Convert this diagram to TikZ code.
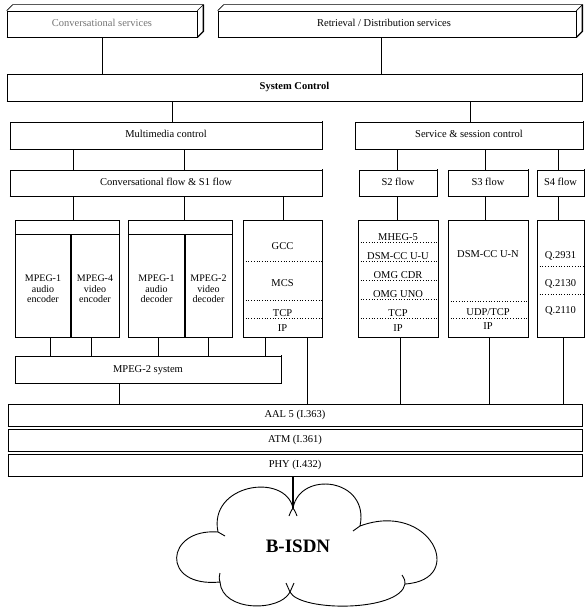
\documentclass[tikz,border=0pt]{standalone}
\usepackage{fontspec}
\setmainfont{Liberation Serif}
\usetikzlibrary{calc}
\newcommand\bx[7][]{\node[box,#1,minimum width={(#5-#3)*1pt},minimum height={(#6-#4)*1pt}] (#2) at ({(#3+#5)/2},{(#4+#6)/2}) {#7};}
\begin{document}
\begin{tikzpicture}[x=1pt,y=-1pt,
  box/.style={draw, line width=0.7pt, inner sep=0pt, text height=7pt, text depth=2pt, font=\fontsize{10.5}{12}\selectfont},
  shd/.style={line width=1.6pt},
  conn/.style={line width=0.8pt},
  sepl/.style={dotted, line width=0.7pt},
  thickdiv/.style={line width=1.8pt},
  cell/.style={font=\fontsize{10.5}{12}\selectfont, inner sep=0pt, anchor=base},
  mp/.style={font=\fontsize{10}{10.5}\selectfont, align=center, inner sep=0pt}]
\useasboundingbox (0,0) rectangle (585,612);

% top 3D boxes
\bx{cs}{7}{11}{197}{37}{\textcolor{black!55}{Conversational services}}
\bx{rd}{218}{11}{576}{37}{\hspace*{-26pt}Retrieval / Distribution services}
\foreach \n in {cs,rd}{
  \draw[line width=0.7pt] (\n.north west) -- ++(6,-6) -- ($(\n.north east)+(6,-6)$) -- (\n.north east);
  \draw[line width=1.3pt] ($(\n.north east)+(6,-6)$) -- ($(\n.south east)+(6,-6)$) -- (\n.south east);
  \draw[shd] (\n.south west) -- (\n.south east);
}

% control boxes
\bx[font=\fontsize{10.5}{12}\selectfont\bfseries]{sys}{7}{74}{582}{101}{System Control}
\bx{mm}{10}{122}{322}{149}{Multimedia control}
\bx{ssc}{355}{122}{583}{149}{Service \& session control}
\bx{cf}{10}{170}{322}{196}{Conversational flow \& S1 flow}
\bx{s2}{359}{170}{437}{196}{S2 flow}
\bx{s3}{448}{170}{528}{196}{S3 flow}
\bx{s4}{537}{170}{584}{196}{S4 flow}
\foreach \n in {sys,mm,ssc,cf,s2,s3,s4}{
  \draw[shd] (\n.south west) -- (\n.south east) -- ($(\n.north east)+(0,-1)$);
}

% MPEG groups
\bx{g1}{15}{220}{119}{337}{}
\bx{g2}{128}{220}{232}{337}{}
\draw[line width=0.7pt] (15,234) -- (119,234);
\draw[line width=0.7pt] (128,234) -- (232,234);
\draw[thickdiv] (71,234) -- (71,337);
\draw[thickdiv] (185,234) -- (185,337);
\node[mp] (a1) at (43,289) {MPEG-1\\audio\\encoder};
\node[mp] (a2) at (95,289) {MPEG-4\\video\\encoder};
\node[mp] (a3) at (156.5,289) {MPEG-1\\audio\\decoder};
\node[mp] (a4) at (208.5,289) {MPEG-2\\video\\decoder};

% GCC column
\bx{gcc}{243}{220}{322}{337}{}
\draw[sepl] (243,261) -- (322,261);
\draw[sepl] (243,300) -- (322,300);
\draw[sepl] (243,318) -- (322,318);
\node[cell] at (282.5,249) {GCC};
\node[cell] at (282.5,286) {MCS};
\node[cell] at (282.5,316) {TCP};
\node[cell] at (282.5,331) {IP};

% MHEG column
\bx{mh}{358}{220}{438}{337}{}
\foreach \y in {242,261,280,299,318}{\draw[sepl] (358,\y) -- (438,\y);}
\node[cell] at (398,240) {MHEG-5};
\node[cell] at (398,259) {DSM-CC U-U};
\node[cell] at (398,278) {OMG CDR};
\node[cell] at (398,297) {OMG UNO};
\node[cell] at (398,316) {TCP};
\node[cell] at (398,331) {IP};

% DSM-CC U-N column
\bx{un}{448}{220}{528}{337}{}
\draw[sepl] (448,301) -- (528,301);
\draw[sepl] (448,318) -- (528,318);
\node[cell] at (488,257) {DSM-CC U-N};
\node[cell] at (488,315) {UDP/TCP};
\node[cell] at (488,329) {IP};

% Q column
\bx{q}{537}{220}{584}{337}{}
\draw[sepl] (537,266) -- (584,266);
\draw[sepl] (537,294) -- (584,294);
\node[cell] at (560.5,258) {Q.2931};
\node[cell] at (560.5,286) {Q.2130};
\node[cell] at (560.5,313) {Q.2110};

% MPEG-2 system and lower layers
\bx{m2}{15}{356}{281}{383}{MPEG-2 system}
\draw[shd] (m2.south west) -- (m2.south east) -- ($(m2.north east)+(0,-1)$);
\bx{aal}{8}{404}{582}{426}{AAL 5 (I.363)}
\bx{atm}{8}{429}{582}{451}{ATM (I.361)}
\bx{phy}{8}{454}{582}{476}{PHY (I.432)}
\foreach \n in {aal,atm,phy}{\draw[line width=1.3pt] (\n.south west) -- (\n.south east);}

% guide coordinates for connectors
\foreach \x in {102,381,172,470,73,184,283,397,485,558,50,91,158,208,265,307,400,489,563,119,293}{
  \coordinate (x\x) at (\x,0);
}

% connectors
\draw[conn] (cs.south -| x102) -- (sys.north -| x102);
\draw[conn] (rd.south -| x381) -- (sys.north -| x381);
\draw[conn] (sys.south -| x172) -- (mm.north -| x172);
\draw[conn] (sys.south -| x470) -- (ssc.north -| x470);
\draw[conn] (mm.south -| x73) -- (cf.north -| x73);
\draw[conn] (mm.south -| x184) -- (cf.north -| x184);
\draw[conn] (cf.south -| x73) -- (g1.north -| x73);
\draw[conn] (cf.south -| x184) -- (g2.north -| x184);
\draw[conn] (cf.south -| x283) -- (gcc.north -| x283);
\draw[conn] (ssc.south -| x397) -- (s2.north -| x397);
\draw[conn] (ssc.south -| x485) -- (s3.north -| x485);
\draw[conn] (ssc.south -| x558) -- (s4.north -| x558);
\draw[conn] (s2.south -| x397) -- (mh.north -| x397);
\draw[conn] (s3.south -| x485) -- (un.north -| x485);
\draw[conn] (s4.south -| x558) -- (q.north -| x558);
\draw[conn] (g1.south -| x50) -- (m2.north -| x50);
\draw[conn] (g1.south -| x91) -- (m2.north -| x91);
\draw[conn] (g2.south -| x158) -- (m2.north -| x158);
\draw[conn] (g2.south -| x208) -- (m2.north -| x208);
\draw[conn] (gcc.south -| x265) -- (m2.north -| x265);
\draw[conn] (gcc.south -| x307) -- (aal.north -| x307);
\draw[conn] (mh.south -| x400) -- (aal.north -| x400);
\draw[conn] (un.south -| x489) -- (aal.north -| x489);
\draw[conn] (q.south -| x563) -- (aal.north -| x563);
\draw[conn] (m2.south -| x119) -- (aal.north -| x119);

% cloud
\coordinate (cltop) at (293,508);
\draw[line width=0.9pt]
  (218,532) .. controls (208,484) and (285,472) .. (cltop)
  .. controls (300,470) and (370,478) .. (360,526)
  .. controls (430,500) and (468,580) .. (405,584)
  .. controls (400,612) and (300,612) .. (290,592)
  .. controls (280,612) and (222,612) .. (220,582)
  .. controls (160,588) and (165,528) .. cycle;
% hooks
\draw[line width=0.9pt] (cltop) .. controls (291,511) .. (289,516);
\draw[line width=0.9pt] (cltop) .. controls (295,511) .. (297,516);
\draw[line width=0.9pt] (360,526) .. controls (357,529) .. (353,531);
\draw[line width=0.9pt] (218,532) .. controls (221,534) .. (225,536);
\draw[line width=0.9pt] (290,592) .. controls (288,588) .. (286,583);
\draw[line width=0.9pt] (290,592) .. controls (292,588) .. (294,583);
\draw[line width=0.9pt] (220,582) .. controls (219,578) .. (220,573);
\draw[line width=0.9pt] (405,584) .. controls (405,580) .. (402,575);
\node[font=\fontsize{19}{22}\selectfont\bfseries] (bisdn) at (298,546) {B-ISDN};
\draw[line width=1.4pt] (phy.south -| x293) -- (cltop);
\end{tikzpicture}
\end{document}
